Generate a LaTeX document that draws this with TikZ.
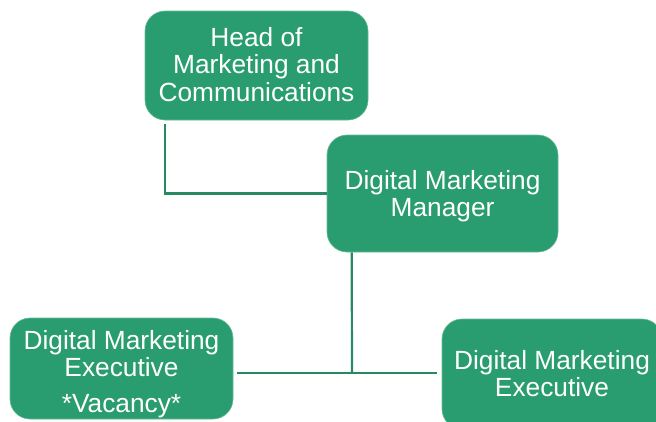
\documentclass[tikz,border=0pt]{standalone}
\usepackage{fontspec}
\setmainfont{Liberation Sans}
\usetikzlibrary{calc}
\definecolor{boxgreen}{RGB}{41,157,111}
\definecolor{linegreen}{RGB}{40,138,96}
\tikzset{
  orgbox/.style={fill=boxgreen, draw=boxgreen!70!white, line width=0.6pt, rounded corners=20pt, inner sep=0pt},
  lbl/.style={text=white, align=center, font=\fontsize{26.3}{27.5}\selectfont, inner sep=0pt},
  conn/.style={draw=linegreen, line width=2.2pt}
}
\begin{document}
\begin{tikzpicture}[x=1pt,y=-1pt]
\useasboundingbox (0,0) rectangle (656,421);
\clip (0,0) rectangle (656,421);
% boxes
\node[orgbox, minimum width=223pt, minimum height=109pt] (head) at (256.5,65.5) {};
\node[orgbox, minimum width=231pt, minimum height=117pt] (mgr) at (442.5,193.5) {};
\node[orgbox, minimum width=223pt, minimum height=101pt] (left) at (121.5,368.5) {};
\node[orgbox, minimum width=220pt, minimum height=110pt] (right) at (552,374) {};
% labels
\node[lbl] (headt) at (256.5,64.5) {Head of\\Marketing and\\Communications};
\node[lbl] (mgrt) at (442.5,196) {Digital Marketing\\Manager};
\node[lbl] (leftt) at (121.5,353.5) {Digital Marketing\\Executive};
\node[lbl] (leftv) at (121.5,406.5) {*Vacancy*};
\node[lbl] (rightt) at (552,373.5) {Digital Marketing\\Executive};
% connectors
\coordinate (j) at (352,373);
\draw[conn] ($(head.south west)+(20,4)$) |- (mgr.west);
\draw[conn] ($(mgr.south west)+(25,0)$) -- (j);
\draw[conn] ($(left.east |- j)+(4,0)$) -- ($(right.west |- j)+(-5,0)$);
\end{tikzpicture}
\end{document}
